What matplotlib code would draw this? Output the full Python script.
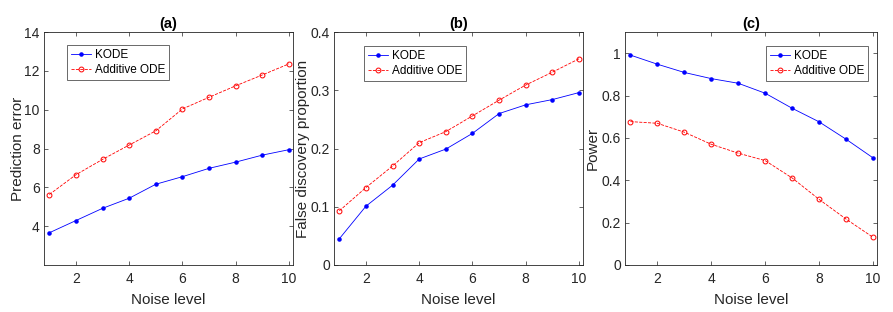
import matplotlib
matplotlib.use("Agg")
import matplotlib.pyplot as plt

plt.rcParams['font.family'] = ['Liberation Sans', 'DejaVu Sans']

noise = [1, 2, 3, 4, 5, 6, 7, 8, 9, 10]

pe_kode = [3.66, 4.29, 4.92, 5.44, 6.16, 6.55, 6.98, 7.30, 7.66, 7.94]
pe_add = [5.63, 6.65, 7.44, 8.18, 8.91, 10.04, 10.64, 11.23, 11.79, 12.36]

fdp_kode = [0.045, 0.101, 0.137, 0.182, 0.199, 0.226, 0.260, 0.275, 0.284, 0.296]
fdp_add = [0.093, 0.133, 0.170, 0.210, 0.229, 0.256, 0.283, 0.309, 0.331, 0.354]

pow_kode = [0.991, 0.948, 0.909, 0.880, 0.858, 0.811, 0.740, 0.676, 0.594, 0.506]
pow_add = [0.677, 0.669, 0.627, 0.570, 0.528, 0.493, 0.411, 0.310, 0.217, 0.131]

titles = ['(a)', '(b)', '(c)']
ylabels = ['Prediction error', 'False discovery proportion', 'Power']
ylims = [(2, 14), (0, 0.4), (0, 1.1)]
yticks = [[4, 6, 8, 10, 12, 14], [0, 0.1, 0.2, 0.3, 0.4], [0, 0.2, 0.4, 0.6, 0.8, 1.0]]
yticklabels = [['4', '6', '8', '10', '12', '14'], ['0', '0.1', '0.2', '0.3', '0.4'],
               ['0', '0.2', '0.4', '0.6', '0.8', '1']]
series = [(pe_kode, pe_add), (fdp_kode, fdp_add), (pow_kode, pow_add)]

W, H = 893, 312
fig = plt.figure(figsize=(W / 100, H / 100), dpi=100)
boxes = [(44, 293), (334, 583), (625, 877)]
legpos = [(67, 45), (364, 46), (766, 46)]
ylabx = [25, 310, 600]
top, bottom = 32, 265
gray = (0.15, 0.15, 0.15)

for i in range(3):
    l, r = boxes[i]
    ax = fig.add_axes([l / W, 1 - bottom / H, (r - l) / W, (bottom - top) / H])
    k, a = series[i]
    ax.plot(noise, k, '-', color='blue', lw=0.6, marker='.', ms=4.5, label='KODE')
    ax.plot(noise, a, '--', color='red', lw=0.6, marker='o', ms=3.5, mfc='none', mew=0.7,
            label='Additive ODE')
    ax.set_xlim(0.8, 10.15)
    ax.set_ylim(*ylims[i])
    ax.set_xticks([2, 4, 6, 8, 10])
    ax.set_yticks(yticks[i])
    ax.set_yticklabels(yticklabels[i])
    ax.tick_params(direction='in', length=3, width=0.5, colors=gray, labelsize=10,
                   top=True, right=True)
    ax.tick_params(axis='x', pad=5)
    ax.tick_params(axis='y', pad=3)
    for s in ax.spines.values():
        s.set_color(gray)
        s.set_linewidth(0.6)
    ax.set_xlabel('Noise level', fontsize=11, color=gray, labelpad=5)
    ax.set_ylabel(ylabels[i], fontsize=11, color=gray)
    ax.yaxis.set_label_coords((ylabx[i] - l) / (r - l), 0.5)
    ax.set_title(titles[i], fontsize=10.5, fontweight='bold', pad=3)
    lx, ly = legpos[i]
    leg = ax.legend(loc='upper left', bbox_to_anchor=((lx - l) / (r - l), 1 - (ly - top) / (bottom - top)),
                    fontsize=8.5, frameon=True, fancybox=False, borderpad=0.35,
                    handlelength=1.7, handletextpad=0.3, labelspacing=0.25, borderaxespad=0)
    leg.get_frame().set_edgecolor(gray)
    leg.get_frame().set_linewidth(0.6)

fig.savefig('out.png', dpi=100)
